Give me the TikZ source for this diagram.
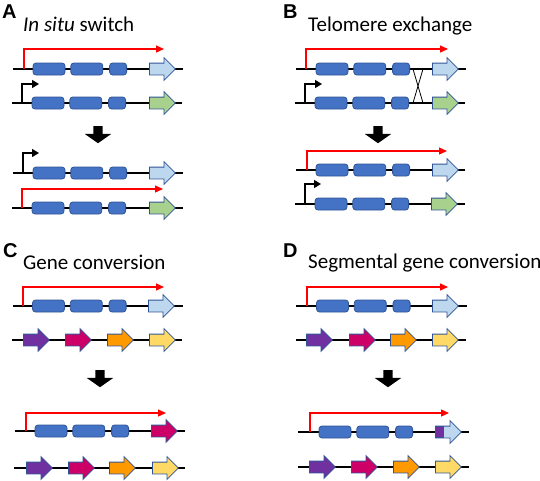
\documentclass[tikz,border=0pt]{standalone}
\usepackage{fontspec}
\setmainfont{Carlito}
\newfontfamily\panelfont{Liberation Sans}
\usepackage{xcolor}
\usetikzlibrary{positioning}
\usetikzlibrary{shapes.arrows}
\usetikzlibrary{arrows.meta}

\definecolor{exonblue}{HTML}{4472C4}
\definecolor{edgeblue}{HTML}{2F5597}
\definecolor{vsgblue}{HTML}{BDD7EE}
\definecolor{vsggreen}{HTML}{A9D18E}
\definecolor{vsgpurple}{HTML}{7030A0}
\definecolor{vsgred}{HTML}{CC0066}
\definecolor{vsgorange}{HTML}{FF9900}
\definecolor{vsgyellow}{HTML}{FFD966}

\begin{document}
\begin{tikzpicture}[x=1pt,y=-1pt,
      chrom/.style={line width=2pt},
      exonL/.style={rectangle,draw=edgeblue,fill=exonblue,rounded corners=3pt,line width=0.8pt,
        minimum width=32pt,minimum height=12pt,inner sep=0pt},
      exonS/.style={exonL,minimum width=17pt},
      vsg/.style={single arrow,draw=edgeblue,line width=0.8pt,inner sep=5.5pt,minimum height=26pt,
        single arrow head extend=5.5pt,single arrow tip angle=90,anchor=tail},
      expr/.style={red,line width=1.2pt,-{Triangle[length=8pt,width=7pt]}},
      prom/.style={black,line width=1.3pt,-{Triangle[length=7pt,width=8pt]}},
      switch/.style={single arrow,fill=black,shape border rotate=270,inner sep=4.5pt,minimum height=17pt,
        single arrow head extend=8.5pt,single arrow tip angle=110,anchor=tail},
      panel/.style={anchor=base west,inner sep=0pt,font=\panelfont\fontsize{20}{24}\selectfont\bfseries},
      title/.style={anchor=base west,inner sep=0pt,font=\fontsize{21}{25}\selectfont}]

  \useasboundingbox (0,0) rectangle (540,480);

  % A
  \node[panel] (la) at (2,18) {A};
  \node[title] (ta) at (23,31) {\textit{In situ} switch};

  \draw[chrom] (13,69) -- (183,69);
  \node[exonL] (a1e1) at (49,69) {};
  \node[exonL,right=5pt of a1e1] (a1e2) {};
  \node[exonS,right=6pt of a1e2] (a1e3) {};
  \node[vsg,fill=vsgblue] (a1v) at (149,69) {};
  \coordinate (a1p) at (24,69);
  \coordinate (a1q) at (164,49);
  \draw[expr] (a1p) |- (a1q);

  \draw[chrom] (12,103) -- (182,103);
  \node[exonL] (a2e1) at (48,103) {};
  \node[exonL,right=5pt of a2e1] (a2e2) {};
  \node[exonS,right=6pt of a2e2] (a2e3) {};
  \node[vsg,fill=vsggreen] (a2v) at (149,103) {};
  \coordinate (a2p) at (22,103);
  \coordinate (a2q) at (39,84);
  \draw[prom] (a2p) |- (a2q);

  \node[switch] (aarr) at (98,126) {};

  \draw[chrom] (13,173) -- (183,173);
  \node[exonL] (a3e1) at (49,173) {};
  \node[exonL,right=5pt of a3e1] (a3e2) {};
  \node[exonS,right=6pt of a3e2] (a3e3) {};
  \node[vsg,fill=vsgblue] (a3v) at (149,173) {};
  \coordinate (a3p) at (23,173);
  \coordinate (a3q) at (39,153);
  \draw[prom] (a3p) |- (a3q);

  \draw[chrom] (12,208) -- (183,208);
  \node[exonL] (a4e1) at (48,208) {};
  \node[exonL,right=5pt of a4e1] (a4e2) {};
  \node[exonS,right=6pt of a4e2] (a4e3) {};
  \node[vsg,fill=vsggreen] (a4v) at (149,208) {};
  \coordinate (a4p) at (22,208);
  \coordinate (a4q) at (163,189);
  \draw[expr] (a4p) |- (a4q);

  % B
  \node[panel] (lb) at (283,18) {B};
  \node[title] (tb) at (308,31) {Telomere exchange};

  \draw[chrom] (296,69) -- (466,69);
  \node[exonL] (b1e1) at (332,69) {};
  \node[exonL,right=5pt of b1e1] (b1e2) {};
  \node[exonS,right=6pt of b1e2] (b1e3) {};
  \node[vsg,fill=vsgblue] (b1v) at (432,69) {};
  \coordinate (b1p) at (306,69);
  \coordinate (b1q) at (448,49);
  \draw[expr] (b1p) |- (b1q);

  \draw[chrom] (295,103) -- (465,103);
  \node[exonL] (b2e1) at (331,103) {};
  \node[exonL,right=5pt of b2e1] (b2e2) {};
  \node[exonS,right=6pt of b2e2] (b2e3) {};
  \node[vsg,fill=vsggreen] (b2v) at (432,103) {};
  \coordinate (b2p) at (305,103);
  \coordinate (b2q) at (322,84);
  \draw[prom] (b2p) |- (b2q);

  \draw[line width=0.8pt] (413,69) -- (423,103);
  \draw[line width=0.8pt] (423,69) -- (413,103);

  \node[switch] (barr) at (378,126) {};

  \draw[chrom] (296,170) -- (465,170);
  \node[exonL] (b3e1) at (332,170) {};
  \node[exonL,right=5pt of b3e1] (b3e2) {};
  \node[exonS,right=6pt of b3e2] (b3e3) {};
  \node[vsg,fill=vsgblue] (b3v) at (432,170) {};
  \coordinate (b3p) at (307,170);
  \coordinate (b3q) at (447,151);
  \draw[expr] (b3p) |- (b3q);

  \draw[chrom] (295,204) -- (465,204);
  \node[exonL] (b4e1) at (331,204) {};
  \node[exonL,right=5pt of b4e1] (b4e2) {};
  \node[exonS,right=6pt of b4e2] (b4e3) {};
  \node[vsg,fill=vsggreen] (b4v) at (431,204) {};
  \coordinate (b4p) at (305,204);
  \coordinate (b4q) at (321,184);
  \draw[prom] (b4p) |- (b4q);

  % C
  \node[panel] (lc) at (3,257) {C};
  \node[title] (tc) at (23,269) {Gene conversion};

  \draw[chrom] (13,306) -- (183,306);
  \node[exonL] (c1e1) at (48.5,306) {};
  \node[exonL,right=5pt of c1e1] (c1e2) {};
  \node[exonS,right=6pt of c1e2] (c1e3) {};
  \node[vsg,fill=vsgblue] (c1v) at (148,306) {};
  \coordinate (c1p) at (23,306);
  \coordinate (c1q) at (164,287);
  \draw[expr] (c1p) |- (c1q);

  \draw[chrom] (12,340) -- (182,340);
  \node[vsg,fill=vsgpurple] (c2v1) at (23,340) {};
  \node[vsg,fill=vsgred] (c2v2) at (65,340) {};
  \node[vsg,fill=vsgorange] (c2v3) at (107,340) {};
  \node[vsg,fill=vsgyellow] (c2v4) at (149,340) {};

  \node[switch] (carr) at (100,370) {};

  \draw[chrom] (15,431) -- (185,431);
  \node[exonL] (c3e1) at (51,431) {};
  \node[exonL,right=5pt of c3e1] (c3e2) {};
  \node[exonS,right=6pt of c3e2] (c3e3) {};
  \node[vsg,fill=vsgred] (c3v) at (151,431) {};
  \coordinate (c3p) at (26,431);
  \coordinate (c3q) at (166,413);
  \draw[expr] (c3p) |- (c3q);

  \draw[chrom] (14,468) -- (185,468);
  \node[vsg,fill=vsgpurple] (c4v1) at (26,468) {};
  \node[vsg,fill=vsgred] (c4v2) at (68,468) {};
  \node[vsg,fill=vsgorange] (c4v3) at (109,468) {};
  \node[vsg,fill=vsgyellow] (c4v4) at (152,468) {};

  % D
  \node[panel] (ld) at (283,257) {D};
  \node[title] (td) at (308,268) {Segmental gene conversion};

  \draw[chrom] (296,306) -- (467,306);
  \node[exonL] (d1e1) at (332.5,306) {};
  \node[exonL,right=5pt of d1e1] (d1e2) {};
  \node[exonS,right=6pt of d1e2] (d1e3) {};
  \node[vsg,fill=vsgblue] (d1v) at (432,306) {};
  \coordinate (d1p) at (307,306);
  \coordinate (d1q) at (448,287);
  \draw[expr] (d1p) |- (d1q);

  \draw[chrom] (296,340) -- (466,340);
  \node[vsg,fill=vsgpurple] (d2v1) at (306,340) {};
  \node[vsg,fill=vsgred] (d2v2) at (349,340) {};
  \node[vsg,fill=vsgorange] (d2v3) at (390,340) {};
  \node[vsg,fill=vsgyellow] (d2v4) at (432,340) {};

  \node[switch] (darr) at (388,370) {};

  \draw[chrom] (298,432) -- (469,432);
  \node[exonL] (d3e1) at (335,432) {};
  \node[exonL,right=5pt of d3e1] (d3e2) {};
  \node[exonS,right=6pt of d3e2] (d3e3) {};
  \node[vsg,fill=vsgblue] (d3v) at (435,432) {};
  \node[rectangle,draw=edgeblue,fill=vsgpurple,line width=0.8pt,minimum width=8pt,minimum height=11pt,
    inner sep=0pt,anchor=west] (d3s) at (d3v.tail) {};
  \coordinate (d3p) at (310,432);
  \coordinate (d3q) at (449,413);
  \draw[expr] (d3p) |- (d3q);

  \draw[chrom] (298,467) -- (469,467);
  \node[vsg,fill=vsgpurple] (d4v1) at (309,467) {};
  \node[vsg,fill=vsgred] (d4v2) at (351,467) {};
  \node[vsg,fill=vsgorange] (d4v3) at (393,467) {};
  \node[vsg,fill=vsgyellow] (d4v4) at (435,467) {};
\end{tikzpicture}
\end{document}
